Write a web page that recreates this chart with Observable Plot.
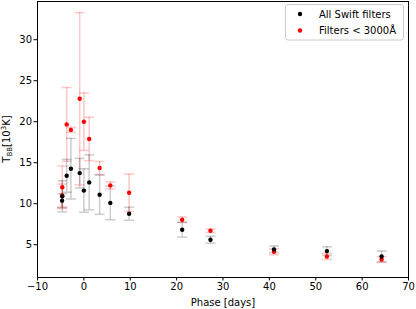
<!DOCTYPE html>
<html>
<head>
<meta charset="utf-8">
<script src="https://cdn.jsdelivr.net/npm/d3@7"></script>
<script src="https://cdn.jsdelivr.net/npm/@observablehq/plot@0.6"></script>
<style>
  html, body { margin: 0; padding: 0; background: #fff; }
  svg { font-family: "DejaVu Sans", sans-serif; }
</style>
</head>
<body>
<div id="chart"></div>
<script>
// All Swift filters (black)
const allPhase = [-4.65, -4.7, -3.7, -2.8, -0.9, 0.0, 1.15, 3.4, 5.7, 9.75, 21.2, 27.3, 41.0, 52.4, 64.2];
const allT     = [10.9, 10.37, 13.4, 14.27, 13.73, 11.6, 12.6, 11.1, 10.1, 8.78, 6.83, 5.6, 4.43, 4.22, 3.57];
const allErr   = [1.9, 0.85, 2.0, 3.7, 1.8, 2.65, 3.35, 2.4, 2.05, 0.8, 0.9, 0.42, 0.4, 0.52, 0.65];
// Filters < 3000 Å (red)
const uvPhase = [-4.65, -4.7, -3.7, -2.8, -0.9, 0.0, 1.15, 3.4, 5.7, 9.75, 21.2, 27.3, 41.0, 52.4, 64.2];
const uvT     = [12.0, 11.0, 19.67, 19.0, 22.8, 20.0, 17.9, 14.35, 12.23, 11.34, 8.05, 6.7, 4.14, 3.57, 3.2];
const uvErr   = [2.6, 1.4, 4.5, 0.3, 10.5, 3.5, 2.65, 0.8, 0.43, 2.27, 0.33, 0.2, 0.37, 0.37, 0.35];

const xTicks = [-10, 0, 10, 20, 30, 40, 50, 60, 70];
const yTicks = [5, 10, 15, 20, 25, 30];
const legendLabels = ["All Swift filters", "Filters < 3000Å"];

const allData = allPhase.map((p, i) => ({p, T: allT[i], e: allErr[i]}));
const uvData = uvPhase.map((p, i) => ({p, T: uvT[i], e: uvErr[i]}));

const cap = { draw(ctx) { ctx.moveTo(-5, 0); ctx.lineTo(5, 0); } };

function errMarks(data, color, op) {
  return [
    Plot.ruleX(data, {x: "p", y1: d => d.T - d.e, y2: d => d.T + d.e, stroke: color, strokeOpacity: op, strokeWidth: 1.5}),
    Plot.dot(data, {x: "p", y: d => d.T + d.e, symbol: cap, fill: "none", stroke: color, strokeOpacity: op, strokeWidth: 1.5, r: 3}),
    Plot.dot(data, {x: "p", y: d => d.T - d.e, symbol: cap, fill: "none", stroke: color, strokeOpacity: op, strokeWidth: 1.5, r: 3})
  ];
}

const chart = Plot.plot({
  width: 416,
  height: 309,
  marginLeft: 37,
  marginRight: 8,
  marginTop: 1,
  marginBottom: 32,
  style: {fontFamily: "DejaVu Sans, sans-serif", fontSize: "10px", color: "black", background: "white"},
  x: {domain: [-10, 70]},
  y: {domain: [1.0, 34.66]},
  marks: [
    ...errMarks(uvData, "red", 0.22),
    ...errMarks(allData, "black", 0.2),
    Plot.dot(uvData, {x: "p", y: "T", r: 2.2, fill: "red"}),
    Plot.dot(allData, {x: "p", y: "T", r: 2.2, fill: "black"}),
    Plot.axisX({ticks: xTicks, tickSize: 3.5, tickPadding: 2, fontSize: 10, label: "Phase [days]", labelAnchor: "center", labelArrow: "none", labelOffset: 28}),
    Plot.axisY({ticks: yTicks, tickSize: 3.5, tickPadding: 2, fontSize: 10, label: null}),
    Plot.frame({stroke: "black", strokeWidth: 1})
  ]
});

document.getElementById("chart").appendChild(chart);

const svg = d3.select(chart);
// y label with sub/superscript
const yl = svg.append("text")
  .attr("transform", "translate(10,139) rotate(-90)")
  .attr("text-anchor", "middle")
  .attr("font-size", 10)
  .attr("fill", "black");
yl.append("tspan").text("T");
yl.append("tspan").attr("font-size", 7).attr("dy", 2).text("BB");
yl.append("tspan").attr("dy", -2).text("[10");
yl.append("tspan").attr("font-size", 7).attr("dy", -4).text("3");
yl.append("tspan").attr("dy", 4).text("K]");

// legend
const lg = svg.append("g").attr("text-anchor", "start");
lg.append("rect").attr("x", 285.5).attr("y", 4.5).attr("width", 118).attr("height", 35.5)
  .attr("rx", 2.5).attr("fill", "white").attr("fill-opacity", 0.8).attr("stroke", "#cccccc");
const colors = ["black", "red"];
legendLabels.forEach((t, i) => {
  const cy = 14 + i * 16.5;
  lg.append("circle").attr("cx", 300).attr("cy", cy).attr("r", 2.2).attr("fill", colors[i]);
  lg.append("text").attr("x", 319).attr("y", cy).attr("dy", "0.35em").attr("text-anchor", "start")
    .attr("font-size", 10).attr("fill", "black").text(t);
});
</script>
</body>
</html>
